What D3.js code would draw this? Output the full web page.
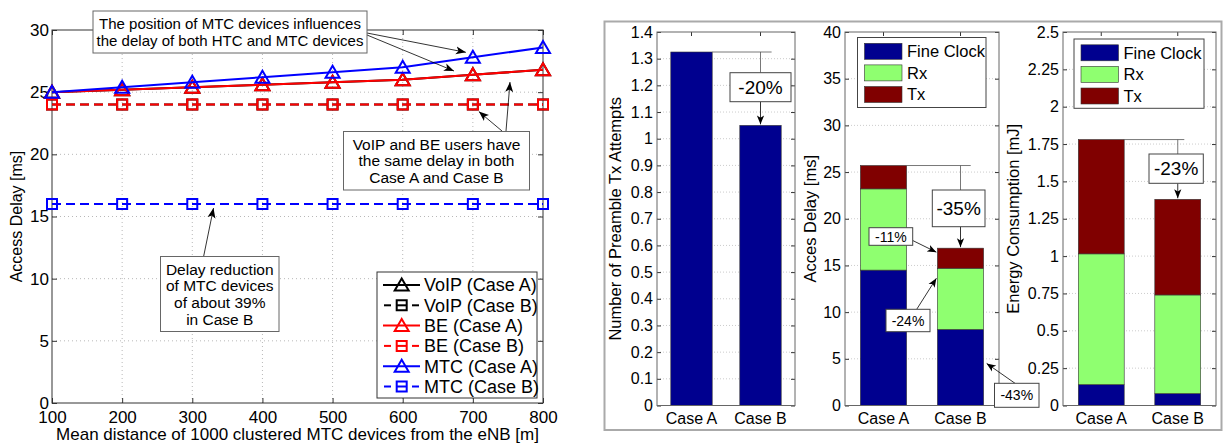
<!DOCTYPE html>
<html>
<head>
<meta charset="utf-8">
<script src="https://cdn.jsdelivr.net/npm/d3@7"></script>
<style>
body { margin: 0; background: #fff; }
svg { display: block; font-family: "Liberation Sans", Arial, Helvetica, sans-serif; }
</style>
</head>
<body>
<div id="chart-area"></div>
<script>
// ---- left figure: access delay vs. distance ----
const distances = [100, 200, 300, 400, 500, 600, 700, 800]
const voipCaseA = [25.0, 25.2, 25.4, 25.6, 25.8, 26.0, 26.4, 26.8]
const voipCaseB = [24, 24, 24, 24, 24, 24, 24, 24]
const beCaseA = [25.0, 25.2, 25.4, 25.6, 25.8, 26.0, 26.4, 26.8]
const beCaseB = [24, 24, 24, 24, 24, 24, 24, 24]
const mtcCaseA = [25.0, 25.4, 25.8, 26.2, 26.6, 27.0, 27.8, 28.6]
const mtcCaseB = [16, 16, 16, 16, 16, 16, 16, 16]
const delayTicks = [0, 5, 10, 15, 20, 25, 30]

// ---- right figure: bar charts ----
const cases = ["Case A", "Case B"]
const preambleAttempts = [1.325, 1.05]
const components = ["Fine Clock", "Rx", "Tx"]
const delayFineClock = [14.5, 8.15]
const delayRx = [8.7, 6.55]
const delayTx = [2.5, 2.15]
const energyFineClock = [0.14, 0.08]
const energyRx = [0.875, 0.66]
const energyTx = [0.765, 0.64]
const preambleTicks = [0, 0.1, 0.2, 0.3, 0.4, 0.5, 0.6, 0.7, 0.8, 0.9, 1, 1.1, 1.2, 1.3, 1.4]
const barDelayTicks = [0, 5, 10, 15, 20, 25, 30, 35, 40]
const energyTicks = [0, 0.25, 0.5, 0.75, 1, 1.25, 1.5, 1.75, 2, 2.25, 2.5]

const COLORS = { "Fine Clock": "#00008f", "Rx": "#8fff70", "Tx": "#800000" }
const FS = 16

const svg = d3.select("#chart-area")
    .append("svg")
    .attr("width", 1223)
    .attr("height", 444)

const defs = svg.append("defs")
defs.append("marker")
    .attr("id", "arr")
    .attr("viewBox", "0 0 10 10")
    .attr("refX", 10).attr("refY", 5)
    .attr("markerWidth", 10).attr("markerHeight", 10)
    .attr("markerUnits", "userSpaceOnUse")
    .attr("orient", "auto")
    .append("path")
    .attr("d", "M0,1 L10,5 L0,9 L2.5,5Z")
    .attr("fill", "#000")
defs.append("marker")
    .attr("id", "arrs")
    .attr("viewBox", "0 0 10 10")
    .attr("refX", 10).attr("refY", 5)
    .attr("markerWidth", 9).attr("markerHeight", 9)
    .attr("markerUnits", "userSpaceOnUse")
    .attr("orient", "auto")
    .append("path")
    .attr("d", "M0,1 L10,5 L0,9 L2.5,5Z")
    .attr("fill", "#000")

function arrow(g, x1, y1, x2, y2, m) {
    g.append("line")
        .attr("x1", x1).attr("y1", y1).attr("x2", x2).attr("y2", y2)
        .attr("stroke", "#000").attr("stroke-width", 0.8)
        .attr("marker-end", `url(#${m || "arr"})`)
}

function textBox(g, x0, y0, x1, y1, lines, size, lh, stroke) {
    g.append("rect")
        .attr("x", x0).attr("y", y0)
        .attr("width", x1 - x0).attr("height", y1 - y0)
        .attr("fill", "#fff").attr("stroke", stroke || "#666").attr("stroke-width", 1)
    const cy = (y0 + y1) / 2
    lines.forEach((t, i) => {
        g.append("text")
            .attr("x", (x0 + x1) / 2)
            .attr("y", cy + (i - (lines.length - 1) / 2) * lh)
            .attr("dy", "0.36em")
            .attr("text-anchor", "middle")
            .style("font-size", size + "px")
            .text(t)
    })
}

// ================= LEFT FIGURE =================
const L = { LEFT: 52, RIGHT: 543, TOP: 30, BOTTOM: 403 }
const gl = svg.append("g")

const x = d3.scaleLinear().domain([100, 800]).range([L.LEFT, L.RIGHT])
const y = d3.scaleLinear().domain([0, 30]).range([L.BOTTOM, L.TOP])

// grid
gl.append("g").selectAll("line").data(distances.slice(1, -1))
    .enter().append("line")
    .attr("x1", d => x(d)).attr("x2", d => x(d))
    .attr("y1", L.TOP).attr("y2", L.BOTTOM)
    .attr("stroke", "#b8b8b8").attr("stroke-dasharray", "1,3")
gl.append("g").selectAll("line").data(delayTicks.slice(1, -1))
    .enter().append("line")
    .attr("x1", L.LEFT).attr("x2", L.RIGHT)
    .attr("y1", d => y(d)).attr("y2", d => y(d))
    .attr("stroke", "#b8b8b8").attr("stroke-dasharray", "1,3")

function styleAxis(sel, labels, size) {
    sel.select(".domain").remove()
    sel.selectAll(".tick line").attr("stroke", "#333")
    if (labels) sel.selectAll(".tick text").style("font-size", (size || FS) + "px").attr("fill", "#000")
    else sel.selectAll(".tick text").remove()
}

gl.append("g").attr("transform", `translate(0,${L.BOTTOM})`)
    .call(d3.axisBottom(x).tickValues(distances).tickSize(-5).tickPadding(8))
    .call(s => styleAxis(s, true, 17))
gl.append("g").attr("transform", `translate(0,${L.TOP})`)
    .call(d3.axisTop(x).tickValues(distances).tickSize(-5))
    .call(s => styleAxis(s, false))
gl.append("g").attr("transform", `translate(${L.LEFT},0)`)
    .call(d3.axisLeft(y).tickValues(delayTicks).tickSize(-5).tickPadding(3))
    .call(s => styleAxis(s, true, 17))
gl.append("g").attr("transform", `translate(${L.RIGHT},0)`)
    .call(d3.axisRight(y).tickValues(delayTicks).tickSize(-5))
    .call(s => styleAxis(s, false))
gl.append("rect")
    .attr("x", L.LEFT).attr("y", L.TOP)
    .attr("width", L.RIGHT - L.LEFT).attr("height", L.BOTTOM - L.TOP)
    .attr("fill", "none").attr("stroke", "#333")

gl.append("text")
    .attr("x", (L.LEFT + L.RIGHT) / 2).attr("y", 440)
    .attr("text-anchor", "middle").style("font-size", "17px")
    .text("Mean distance of 1000 clustered MTC devices from the eNB [m]")
gl.append("text")
    .attr("transform", `translate(16,${(L.TOP + L.BOTTOM) / 2}) rotate(-90)`)
    .attr("text-anchor", "middle").attr("dy", "0.36em").style("font-size", FS + "px")
    .text("Access Delay [ms]")

const series = [
    { name: "VoIP (Case A)", values: voipCaseA, color: "#000", dashed: false },
    { name: "VoIP (Case B)", values: voipCaseB, color: "#000", dashed: true },
    { name: "BE (Case A)", values: beCaseA, color: "#f00", dashed: false },
    { name: "BE (Case B)", values: beCaseB, color: "#f00", dashed: true },
    { name: "MTC (Case A)", values: mtcCaseA, color: "#00f", dashed: false },
    { name: "MTC (Case B)", values: mtcCaseB, color: "#00f", dashed: true }
]
const TRI = "M0,-6.5 L7,5.5 L-7,5.5Z"
const SQ = "M-5,-5 H5 V5 H-5Z"

const line = d3.line().x((d, i) => x(distances[i])).y(d => y(d))
series.forEach(s => {
    gl.append("path")
        .attr("d", line(s.values))
        .attr("fill", "none").attr("stroke", s.color).attr("stroke-width", 2)
        .attr("stroke-dasharray", s.dashed ? "9,5" : null)
    gl.append("g").selectAll("path").data(s.values)
        .enter().append("path")
        .attr("transform", (d, i) => `translate(${x(distances[i])},${y(d)})`)
        .attr("d", s.dashed ? SQ : TRI)
        .attr("fill", "none").attr("stroke", s.color).attr("stroke-width", 2)
})

// legend
const lg = gl.append("g")
lg.append("rect").attr("x", 377).attr("y", 272).attr("width", 160).attr("height", 126)
    .attr("fill", "#fff").attr("stroke", "#333")
series.forEach((s, i) => {
    const cy = 285 + i * 20.3
    if (s.dashed) {
        lg.append("line").attr("x1", 384).attr("x2", 391).attr("y1", cy).attr("y2", cy)
            .attr("stroke", s.color).attr("stroke-width", 2)
        lg.append("line").attr("x1", 412).attr("x2", 419).attr("y1", cy).attr("y2", cy)
            .attr("stroke", s.color).attr("stroke-width", 2)
        lg.append("line").attr("x1", 397).attr("x2", 406).attr("y1", cy).attr("y2", cy)
            .attr("stroke", s.color).attr("stroke-width", 2)
    } else {
        lg.append("line").attr("x1", 383).attr("x2", 420).attr("y1", cy).attr("y2", cy)
            .attr("stroke", s.color).attr("stroke-width", 2)
    }
    lg.append("path").attr("transform", `translate(401.7,${cy})`)
        .attr("d", s.dashed ? SQ : TRI)
        .attr("fill", "none").attr("stroke", s.color).attr("stroke-width", 2)
    lg.append("text").attr("x", 424).attr("y", cy).attr("dy", "0.36em")
        .style("font-size", "18px").text(s.name)
})

// annotations
const ann = gl.append("g")
const AFS = 15
arrow(ann, 367, 33, x(700) - 7, y(mtcCaseA[6]) - 5)
arrow(ann, 367, 35, 454, 71)
textBox(ann, 93, 11, 367, 53, ["The position of MTC devices influences", "the delay of both HTC and MTC devices"], AFS, 17)
arrow(ann, 506, 131, 510, 82)
arrow(ann, 502, 131, x(700) + 6, y(beCaseB[6]) + 7)
textBox(ann, 343.5, 131.5, 529.5, 190, ["VoIP and BE users have", "the same delay in both", "Case A and Case B"], AFS + 0.5, 16.7)
arrow(ann, 203.5, 257, 213.5, y(16) + 4)
textBox(ann, 160.5, 256.5, 279, 331.5, ["Delay reduction", "of MTC devices", "of about 39%", "in Case B"], AFS + 0.5, 16.7)

// ================= RIGHT FIGURE =================
svg.append("rect").attr("x", 604.5).attr("y", 21.5).attr("width", 617).attr("height", 408.5)
    .attr("fill", "none").attr("stroke", "#aaa").attr("stroke-width", 2)

const TOP = 32, BOTTOM = 405.5

function panel(x0, x1, domainMax, ticks, label, labelX) {
    const g = svg.append("g")
    const xb = d3.scaleBand().domain(cases).range([x0, x1]).paddingInner(0.4).paddingOuter(0.2)
    const yb = d3.scaleLinear().domain([0, domainMax]).range([BOTTOM, TOP])
    g.append("g").selectAll("line").data(ticks.slice(1, -1))
        .enter().append("line")
        .attr("x1", x0).attr("x2", x1)
        .attr("y1", d => yb(d)).attr("y2", d => yb(d))
        .attr("stroke", "#ccc").attr("stroke-dasharray", "1,2")
    const fmt = d3.format("~g")
    g.append("g").attr("transform", `translate(${x0},0)`)
        .call(d3.axisLeft(yb).tickValues(ticks).tickFormat(fmt).tickSize(-4).tickPadding(4))
        .call(s => styleAxis(s, true))
    g.append("g").attr("transform", `translate(${x1},0)`)
        .call(d3.axisRight(yb).tickValues(ticks).tickSize(-4))
        .call(s => styleAxis(s, false))
    g.append("g").attr("transform", `translate(0,${BOTTOM})`)
        .call(d3.axisBottom(xb).tickSize(-4).tickPadding(7))
        .call(s => styleAxis(s, true))
    g.append("g").attr("transform", `translate(0,${TOP})`)
        .call(d3.axisTop(xb).tickSize(-4))
        .call(s => styleAxis(s, false))
    g.append("text")
        .attr("transform", `translate(${labelX},${(TOP + BOTTOM) / 2}) rotate(-90)`)
        .attr("text-anchor", "middle").attr("dy", "0.36em").style("font-size", "16.5px")
        .text(label)
    const plot = g.append("g")
    const frame = () => g.append("rect")
        .attr("x", x0).attr("y", TOP).attr("width", x1 - x0).attr("height", BOTTOM - TOP)
        .attr("fill", "none").attr("stroke", "#666")
    return { g, plot, xb, yb, frame }
}

function legendBox(g, x0, y0, x1, y1) {
    g.append("rect").attr("x", x0).attr("y", y0).attr("width", x1 - x0).attr("height", y1 - y0)
        .attr("fill", "#fff").attr("stroke", "#444")
    components.forEach((c, i) => {
        const cy = y0 + 13.8 + i * 21.6
        g.append("rect").attr("x", x0 + 7).attr("y", cy - 8).attr("width", 37.5).attr("height", 16)
            .attr("fill", COLORS[c]).attr("stroke", "#333").attr("stroke-width", 0.6)
        g.append("text").attr("x", x0 + 49.5).attr("y", cy).attr("dy", "0.36em")
            .style("font-size", "16.5px").text(c)
    })
}

function stackedBars(p, fine, rx, tx) {
    const rows = cases.map((c, i) => ({ case: c, "Fine Clock": fine[i], "Rx": rx[i], "Tx": tx[i] }))
    const stacked = d3.stack().keys(components)(rows)
    stacked.forEach(layer => {
        p.plot.append("g").selectAll("rect").data(layer)
            .enter().append("rect")
            .attr("x", d => p.xb(d.data.case))
            .attr("width", p.xb.bandwidth())
            .attr("y", d => p.yb(d[1]))
            .attr("height", d => p.yb(d[0]) - p.yb(d[1]))
            .attr("fill", COLORS[layer.key])
            .attr("stroke", "#333").attr("stroke-width", 0.6)
    })
    return rows.map((r, i) => fine[i] + rx[i] + tx[i])
}

function dropNote(p, topA, topB, boxY0, boxY1, boxX0, boxX1, lineEnd, txt) {
    const xa = p.xb("Case A") + p.xb.bandwidth()
    const xc = p.xb("Case B") + p.xb.bandwidth() / 2
    p.g.append("line").attr("x1", xa).attr("x2", lineEnd)
        .attr("y1", p.yb(topA)).attr("y2", p.yb(topA)).attr("stroke", "#555").attr("stroke-width", 0.8)
    p.g.append("line").attr("x1", xc).attr("x2", xc)
        .attr("y1", p.yb(topA)).attr("y2", boxY0).attr("stroke", "#555").attr("stroke-width", 0.8)
    arrow(p.g, xc, boxY1, xc, p.yb(topB) - 1, "arrs")
    textBox(p.g, boxX0, boxY0, boxX1, boxY1, [txt], 19, 0, "#444")
}

// panel 1: preamble attempts
const p1 = panel(657, 795, 1.4, preambleTicks, "Number of Preamble Tx Attempts", 614.7)
p1.plot.selectAll("rect").data(preambleAttempts)
    .enter().append("rect")
    .attr("x", (d, i) => p1.xb(cases[i]))
    .attr("width", p1.xb.bandwidth())
    .attr("y", d => p1.yb(d))
    .attr("height", d => BOTTOM - p1.yb(d))
    .attr("fill", COLORS["Fine Clock"]).attr("stroke", "#333").attr("stroke-width", 0.6)
p1.frame()
dropNote(p1, preambleAttempts[0], preambleAttempts[1], 72.7, 101.7, 730, 791, 771.6, "-20%")

// panel 2: access delay
const p2 = panel(845, 999, 40, barDelayTicks, "Acces Delay [ms]", 809.8)
const delayTotals = stackedBars(p2, delayFineClock, delayRx, delayTx)
p2.frame()
legendBox(p2.g, 857.5, 37.5, 986, 107.5)
dropNote(p2, delayTotals[0], delayTotals[1], 190, 226.7, 932.3, 985, 970.7, "-35%")
const xbB = p2.xb("Case B")
arrow(p2.g, 912.7, 240.5, xbB - 1, p2.yb(delayTotals[1]) + 4, "arrs")
textBox(p2.g, 869, 227.7, 912.7, 245.3, ["-11%"], 14, 0, "#444")
arrow(p2.g, 916.7, 309.3, xbB - 1, p2.yb(delayFineClock[1] + delayRx[1]) + 10, "arrs")
textBox(p2.g, 886, 309.3, 930, 331.7, ["-24%"], 14, 0, "#444")
arrow(p2.g, 1015, 383.3, xbB + p2.xb.bandwidth() + 3, p2.yb(delayFineClock[1]) + 34, "arrs")
textBox(p2.g, 994.5, 383.3, 1039, 407.3, ["-43%"], 14, 0, "#444")

// panel 3: energy
const p3 = panel(1063, 1216, 2.5, energyTicks, "Energy Consumption [mJ]", 1013)
const energyTotals = stackedBars(p3, energyFineClock, energyRx, energyTx)
p3.frame()
legendBox(p3.g, 1074, 39, 1204, 108.3)
dropNote(p3, energyTotals[0], energyTotals[1], 154, 183.3, 1149, 1203.3, 1184.3, "-23%")
</script>
</body>
</html>
